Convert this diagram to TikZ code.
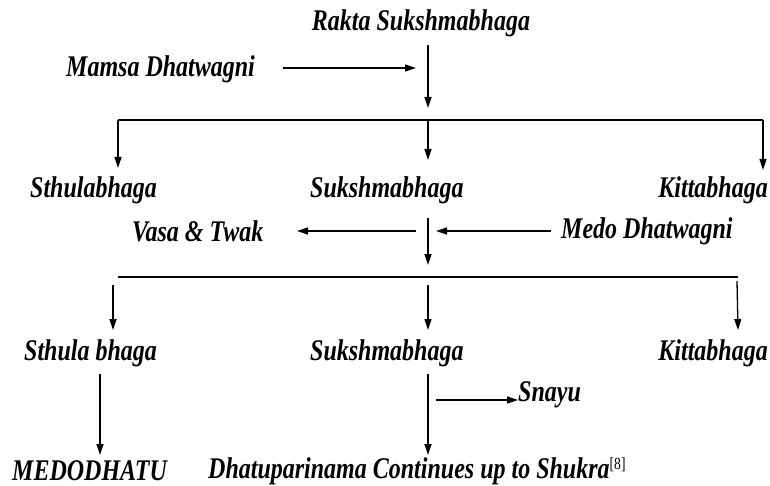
\documentclass[tikz,border=0pt]{standalone}
\usepackage{fontspec}
\setmainfont{Liberation Serif}[FakeStretch=0.80]
\usetikzlibrary{arrows.meta}
\tikzset{
  lbl/.style={inner sep=0pt, font=\bfseries\itshape\fontsize{30}{32}\selectfont},
  arr/.style={line width=1.3pt, -{Triangle[length=11pt,width=7pt]}},
  ln/.style={line width=1.1pt},
}
\begin{document}
\begin{tikzpicture}[x=1pt,y=-1pt]
\useasboundingbox (0,0) rectangle (770,486);
% texts
\node[lbl] (rakta) at (421,23) {Rakta Sukshmabhaga};
\node[lbl,anchor=west] (mamsa) at (66,69) {Mamsa Dhatwagni};
\node[lbl,anchor=west] (sthula1) at (30,190) {Sthulabhaga};
\node[lbl,anchor=west] (suk1) at (310,190) {Sukshmabhaga};
\node[lbl,anchor=east] (kitta1) at (768,190) {Kittabhaga};
\node[lbl,anchor=west] (vasa) at (132,231) {Vasa \& Twak};
\node[lbl,anchor=west] (medo) at (561,231) {Medo Dhatwagni};
\node[lbl,anchor=west] (sthula2) at (24,353) {Sthula bhaga};
\node[lbl,anchor=west] (suk2) at (310,353) {Sukshmabhaga};
\node[lbl,anchor=east] (kitta2) at (768,353) {Kittabhaga};
\node[lbl,anchor=west] (snayu) at (518,395) {Snayu};
\node[lbl,anchor=west] (medodhatu) at (12,471) {MEDODHATU};
\node[lbl,anchor=west] (dhatu) at (208,471) {Dhatuparinama Continues up to Shukra\textsuperscript{\normalfont\fontsize{17}{18}\selectfont[8]}};
% coordinates
\coordinate (t1) at (428,45);
\coordinate (m0) at (283,68);
\coordinate (m1) at (416,68);
\coordinate (b1) at (428,108);
\coordinate (hL) at (118,120);
\coordinate (hM) at (428,120);
\coordinate (hR) at (763,120);
\coordinate (aL) at (118,168);
\coordinate (aM) at (428,160);
\coordinate (aR) at (763,170);
\coordinate (t2) at (428,218);
\coordinate (b2) at (428,265);
\coordinate (v0) at (416,231);
\coordinate (vasaEnd) at (297,231);
\coordinate (md0) at (551,231);
\coordinate (medoEnd) at (436,231);
\coordinate (gL) at (118,277);
\coordinate (gR) at (738,277);
\coordinate (dL) at (113,285);
\coordinate (dM) at (428,285);
\coordinate (dR) at (737,281);
\coordinate (eL) at (113,330);
\coordinate (eM) at (428,330);
\coordinate (eR) at (738,330);
\coordinate (fL) at (100,374);
\coordinate (gL2) at (100,455);
\coordinate (fM) at (428,374);
\coordinate (gM2) at (428,455);
\coordinate (sn) at (436,400);
% connectors
\draw[arr] (t1) -- (b1);
\draw[arr] (m0) -- (m1);
\draw[ln] (hL) -- (hR);
\draw[arr] (hL) -- (aL);
\draw[arr] (hM) -- (aM);
\draw[arr] (hR) -- (aR);
\draw[arr] (t2) -- (b2);
\draw[arr] (v0) -- (vasaEnd);
\draw[arr] (md0) -- (medoEnd);
\draw[ln] (gL) -- (gR);
\draw[arr] (dL) -- (eL);
\draw[arr] (dM) -- (eM);
\draw[arr] (dR) -- (eR);
\draw[arr] (fL) -- (gL2);
\draw[arr] (fM) -- (gM2);
\draw[arr] (sn) -- (sn -| snayu.west);
\end{tikzpicture}
\end{document}
